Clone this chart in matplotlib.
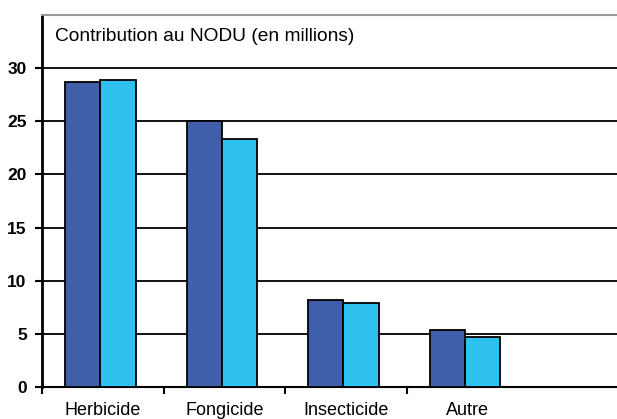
import numpy as np
import matplotlib
matplotlib.use('Agg')
import matplotlib.pyplot as plt

categories = ['Herbicide', 'Fongicide', 'Insecticide', 'Autre']
serie_a = [28.7, 25.0, 8.2, 5.4]
serie_b = [28.9, 23.3, 7.9, 4.7]
yticks = [0, 5, 10, 15, 20, 25, 30]

plt.rcParams['font.family'] = ['Liberation Sans Narrow', 'Liberation Sans', 'DejaVu Sans']

fig = plt.figure(figsize=(6.17, 4.19), dpi=100)
ax = fig.add_axes([42 / 617, 32 / 419, 575 / 617, 372 / 419])

x = np.arange(len(categories))
w = 0.29
ax.bar(x - w / 2 - 0.02, serie_a, w, color='#3F5FAA', edgecolor='black', linewidth=1.3, zorder=3)
ax.bar(x + w / 2 - 0.02, serie_b, w, color='#2EC0EE', edgecolor='black', linewidth=1.3, zorder=3)

# horizontal grid lines
for v in yticks[1:]:
    ax.axhline(v, color='black', linewidth=1.3, zorder=1)

ax.set_xlim(-0.5, 4.23)
ax.set_ylim(0, 35)
ax.set_yticks(yticks)
ax.set_yticklabels([str(v) for v in yticks], fontsize=12.5, fontweight='bold')
ax.set_xticks(np.arange(-0.5, 2.6, 1.0))
ax.set_xticklabels([])
ax.set_xticks(x, minor=True)
ax.set_xticklabels(categories, minor=True, fontsize=13)
ax.tick_params(axis='x', which='minor', length=0, pad=11)
ax.tick_params(axis='x', which='major', length=5, width=1.5, direction='out')
ax.tick_params(axis='y', length=5, width=1.5, direction='out', pad=6)

ax.spines['right'].set_visible(False)
ax.spines['top'].set_color('#999999')
ax.spines['top'].set_linewidth(1.5)
ax.spines['left'].set_linewidth(2)
ax.spines['bottom'].set_linewidth(1.5)

ax.text(0.022, 0.965, 'Contribution au NODU (en millions)', transform=ax.transAxes,
        fontsize=13.8, va='top', ha='left')

fig.savefig('out.png', dpi=100)
